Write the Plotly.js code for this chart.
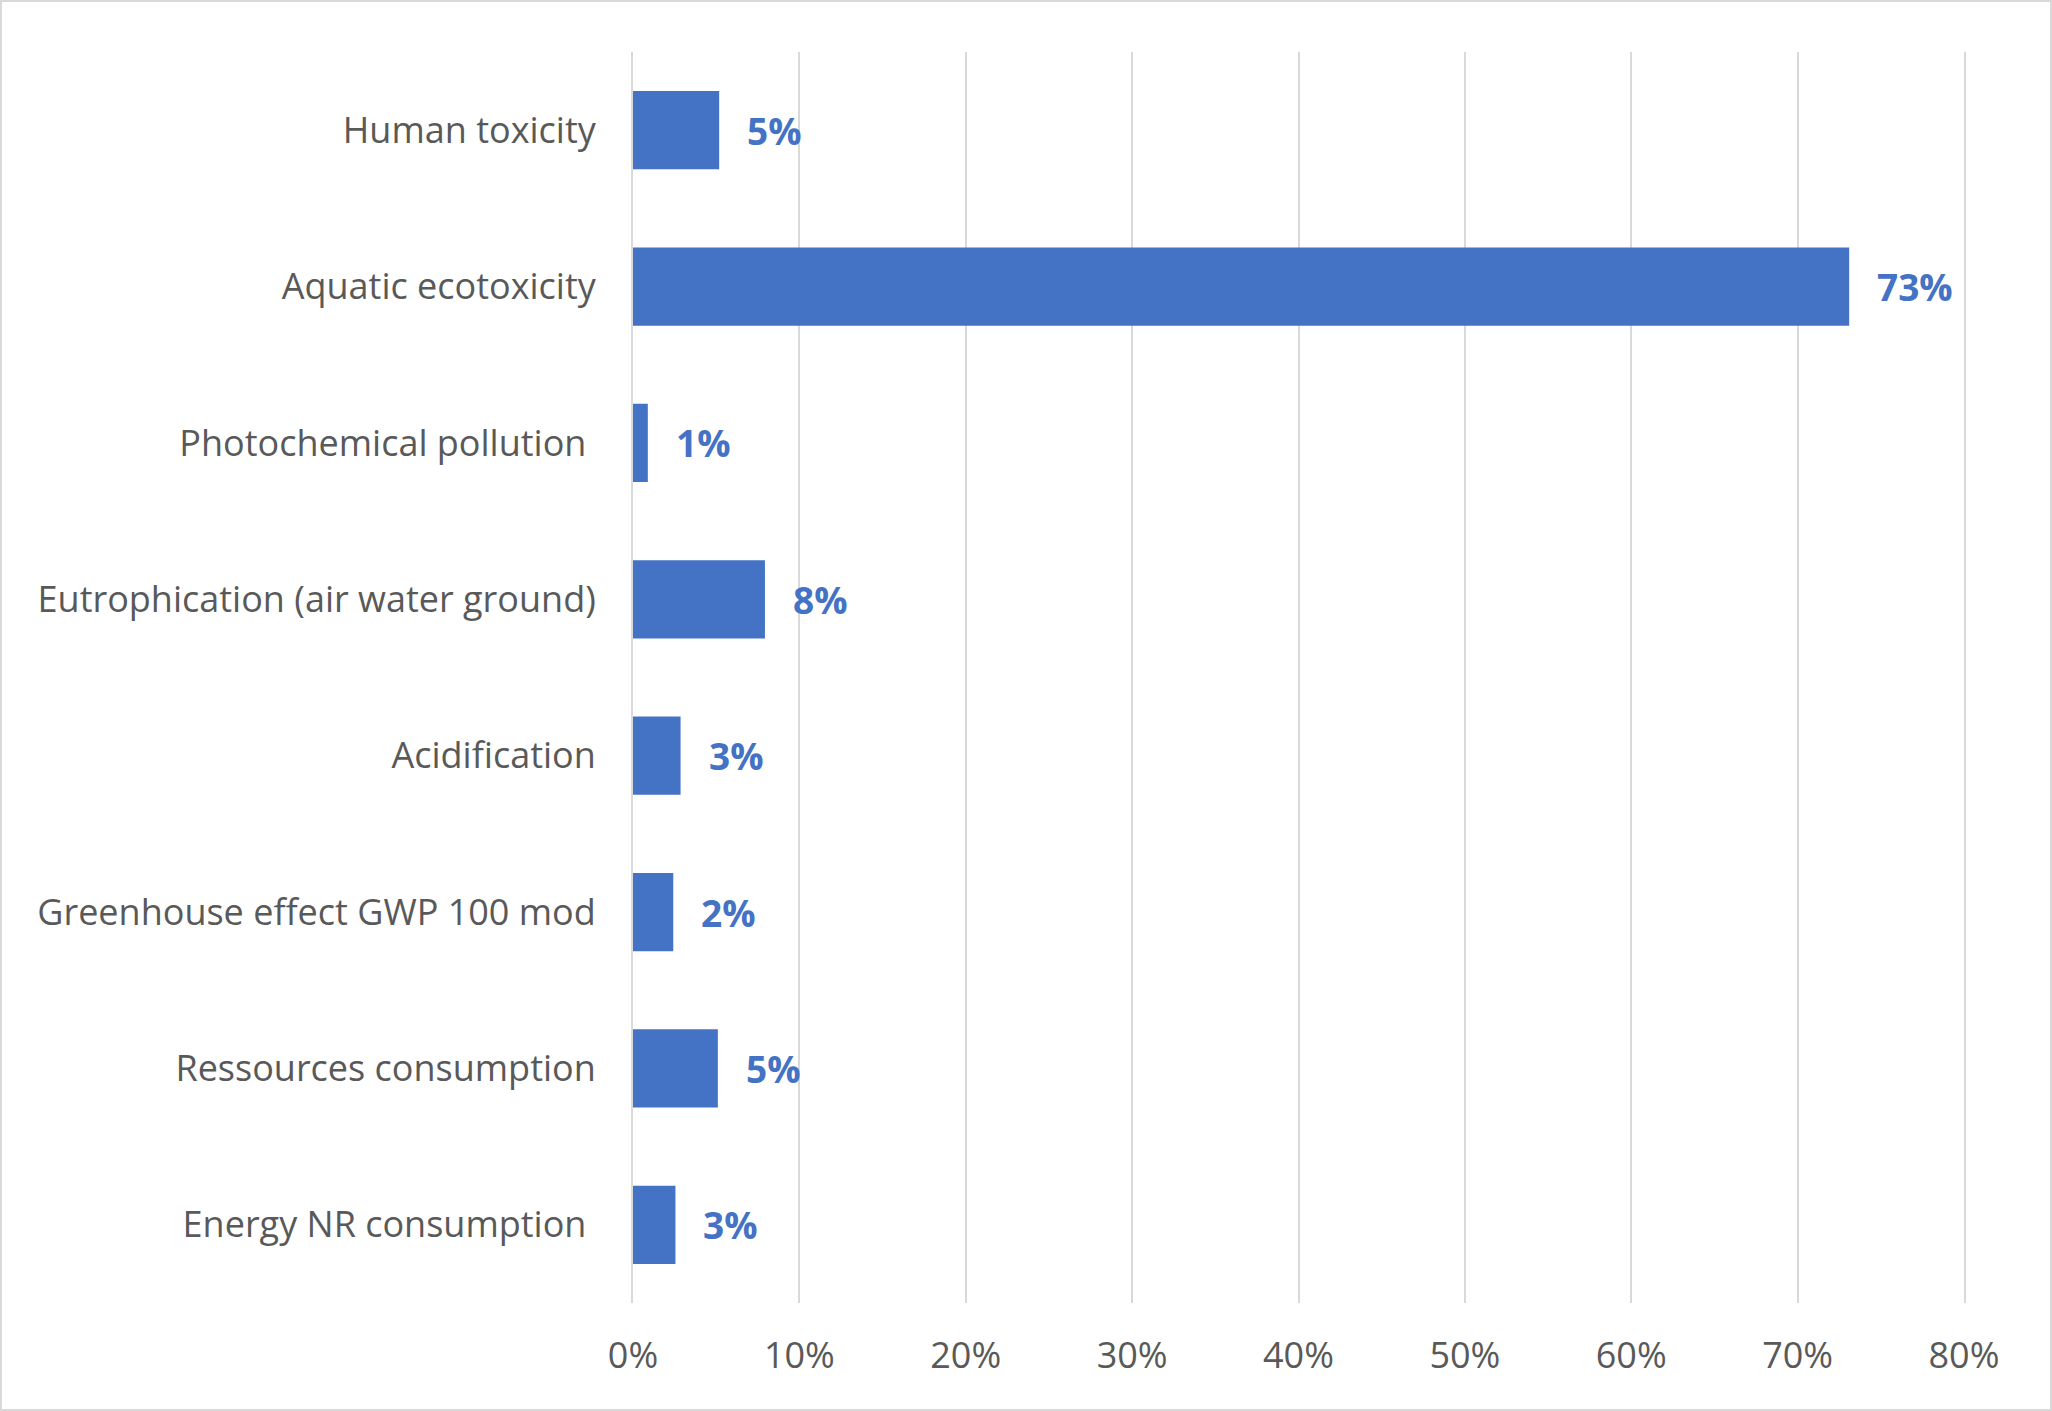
<!DOCTYPE html>
<html>
<head>
<meta charset="utf-8">
<script src="https://cdn.plot.ly/plotly-3.0.1.min.js"></script>
<style>
  html, body { margin: 0; padding: 0; background: #fff; }
  #wrap { width: 2052px; height: 1411px; box-sizing: border-box; border: 2px solid #d9d9d9; overflow: hidden; }
  #chart { width: 2048px; height: 1407px; }
</style>
</head>
<body>
<div id="wrap"><div id="chart"></div></div>
<script>
// Categories, top to bottom
const categories = [
  "Human toxicity",
  "Aquatic ecotoxicity",
  "Photochemical pollution\u00a0",
  "Eutrophication (air water ground)",
  "Acidification",
  "Greenhouse effect GWP 100 mod",
  "Ressources consumption",
  "Energy NR consumption\u00a0"
];
// Share of impact (fraction)
const values = [0.0518, 0.731, 0.0089, 0.0793, 0.0286, 0.0242, 0.051, 0.0255];
// Axis ticks
const tickValues = [0, 0.1, 0.2, 0.3, 0.4, 0.5, 0.6, 0.7, 0.8];
const tickLabels = ["0%", "10%", "20%", "30%", "40%", "50%", "60%", "70%", "80%"];

const barColor = "#4472C4";
const textGray = "#595959";
const gridGray = "#d9d9d9";
const fontFam = "'Open Sans', 'Noto Sans', sans-serif";

const trace = {
  type: "bar",
  orientation: "h",
  x: values,
  y: categories,
  marker: { color: barColor },
  hoverinfo: "skip"
};

const annotations = values.map((v, i) => ({
  x: v, y: categories[i], xref: "x", yref: "y",
  text: "<b>" + Math.round(v * 100) + "%</b>",
  showarrow: false, xanchor: "left", yanchor: "middle",
  xshift: 26, yshift: 0,
  font: { family: fontFam, size: 37, color: barColor }
}));

const layout = {
  width: 2048, height: 1407,
  margin: { l: 631, r: 86, t: 50, b: 106, pad: 0 },
  paper_bgcolor: "#ffffff",
  plot_bgcolor: "#ffffff",
  showlegend: false,
  bargap: 0.5,
  xaxis: {
    range: [0, 0.8],
    tickvals: tickValues,
    ticktext: tickLabels,
    showgrid: true,
    gridcolor: gridGray,
    gridwidth: 2,
    zeroline: false,
    showline: false,
    ticks: "",
    ticklabelstandoff: 28,
    tickfont: { family: fontFam, size: 36, color: textGray },
    fixedrange: true
  },
  yaxis: {
    type: "category",
    categoryorder: "array",
    categoryarray: categories,
    autorange: "reversed",
    showgrid: false,
    zeroline: false,
    showline: true,
    mirror: true,
    linecolor: gridGray,
    linewidth: 2,
    ticks: "",
    ticklabelstandoff: 28,
    tickfont: { family: fontFam, size: 36, color: textGray },
    fixedrange: true
  },
  annotations: annotations
};

Plotly.newPlot("chart", [trace], layout, { displayModeBar: false, staticPlot: true });
</script>
</body>
</html>
